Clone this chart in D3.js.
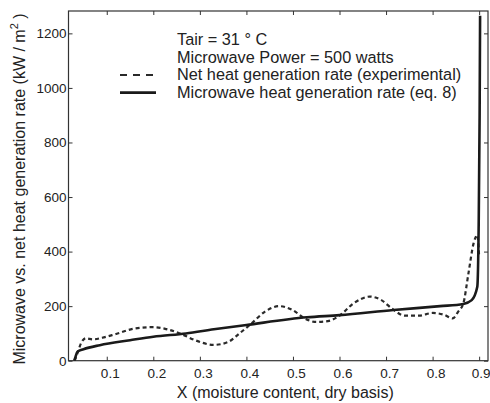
<!DOCTYPE html>
<html><head><meta charset="utf-8">
<script src="https://cdn.jsdelivr.net/npm/d3@7/dist/d3.min.js"></script>
<style>body{margin:0;background:#fff}svg{display:block}text{font-family:"Liberation Sans",Arial,sans-serif;fill:#222}</style>
</head><body>
<script>
// Data
const microwaveX = [0.030,0.033,0.037,0.050,0.085,0.150,0.200,0.270,0.330,0.400,0.530,0.600,0.716,0.816,0.866,0.884,0.896,0.899,0.901,0.902];
const microwaveY = [0,15,33,42,57,75,88,100,115,131,159,167,186,200,208,222,271,500,900,1265];
const netX = [0.031,0.036,0.045,0.055,0.070,0.090,0.120,0.160,0.200,0.230,0.260,0.290,0.330,0.360,0.385,0.410,0.440,0.470,0.500,0.525,0.550,0.575,0.600,0.630,0.665,0.690,0.715,0.740,0.770,0.800,0.825,0.843,0.855,0.866,0.877,0.888,0.896,0.900];
const netY = [0,22,65,82,78,84,98,118,123,115,98,75,58,68,100,135,180,200,185,155,142,145,165,210,235,222,188,165,165,175,168,155,180,210,320,430,460,380];
const xTicks = [0.1,0.2,0.3,0.4,0.5,0.6,0.7,0.8,0.9];
const yTicks = [0,200,400,600,800,1000,1200];
const legendLines = ["Tair = 31 \u00B0 C","Microwave Power = 500 watts","Net heat generation rate (experimental)","Microwave heat generation rate (eq. 8)"];

const W=490,H=403;
const L=68.5,R=488,T=11,B=360.7;
const svg=d3.select("body").append("svg").attr("width",W).attr("height",H);
const x=d3.scaleLinear().domain([0.0178,0.919]).range([L,R]);
const y=d3.scaleLinear().domain([0,1282]).range([B,T]);

const axisColor="#333";
const font='"Liberation Sans",Arial,sans-serif';
svg.append("rect").attr("x",L).attr("y",T).attr("width",R-L).attr("height",B-T)
  .attr("fill","none").attr("stroke",axisColor).attr("stroke-width",1.2);

const gx=svg.append("g").attr("transform",`translate(0,${B})`)
  .call(d3.axisBottom(x).tickValues(xTicks).tickSize(-4).tickPadding(6).tickFormat(d3.format(".1f")));
gx.select(".domain").remove();
gx.selectAll("line").attr("stroke",axisColor);
gx.selectAll("text").attr("font-size",13.5).attr("dx",d=>d===0.9?1.5:3).attr("dy","0.85em").attr("fill","#222").style("font-family",font);
const gt=svg.append("g").attr("transform",`translate(0,${T})`)
  .call(d3.axisTop(x).tickValues(xTicks).tickSize(-4).tickFormat(""));
gt.select(".domain").remove();gt.selectAll("line").attr("stroke",axisColor);
const gy=svg.append("g").attr("transform",`translate(${L},0)`)
  .call(d3.axisLeft(y).tickValues(yTicks).tickSize(-4).tickPadding(2).tickFormat(d3.format("d")));
gy.select(".domain").remove();
gy.selectAll("line").attr("stroke",axisColor);
gy.selectAll("text").attr("font-size",13.5).attr("fill","#222").style("font-family",font);
const gr=svg.append("g").attr("transform",`translate(${R},0)`)
  .call(d3.axisRight(y).tickValues(yTicks).tickSize(-4).tickFormat(""));
gr.select(".domain").remove();gr.selectAll("line").attr("stroke",axisColor);

svg.append("clipPath").attr("id","clip").append("rect").attr("x",L).attr("y",T).attr("width",R-L).attr("height",B-T);

const line=d3.line().x(d=>x(d[0])).y(d=>y(d[1])).curve(d3.curveMonotoneX);
svg.append("path").attr("clip-path","url(#clip)")
  .attr("d",line(netX.map((v,i)=>[v,netY[i]])))
  .attr("fill","none").attr("stroke","#2a2a2a").attr("stroke-width",2.2).attr("stroke-dasharray","4,3");
svg.append("path").attr("clip-path","url(#clip)")
  .attr("d",line(microwaveX.map((v,i)=>[v,microwaveY[i]])))
  .attr("fill","none").attr("stroke","#1a1a1a").attr("stroke-width",2.6);

const lg=svg.append("g");
legendLines.forEach((t,i)=>{
  lg.append("text").attr("x",177).attr("y",45+i*17.6).attr("font-size",16.3).text(t);
});
lg.append("line").attr("x1",120).attr("x2",156).attr("y1",75).attr("y2",75)
  .attr("stroke","#2a2a2a").attr("stroke-width",2.2).attr("stroke-dasharray","7,6");
lg.append("line").attr("x1",120).attr("x2",156).attr("y1",92.6).attr("y2",92.6)
  .attr("stroke","#1a1a1a").attr("stroke-width",2.6);

svg.append("text").attr("x",(L+R)/2+7).attr("y",398).attr("text-anchor","middle").attr("font-size",16)
  .text("X (moisture content, dry basis)");
const yl=svg.append("text").attr("transform","translate(25,189) rotate(-90)").attr("text-anchor","middle").attr("font-size",16);
yl.append("tspan").text("Microwave vs. net heat generation rate (kW / m");
yl.append("tspan").attr("font-size",11).attr("dy",-7).text("2");
yl.append("tspan").attr("dy",7).text(" )");
</script>
</body></html>
